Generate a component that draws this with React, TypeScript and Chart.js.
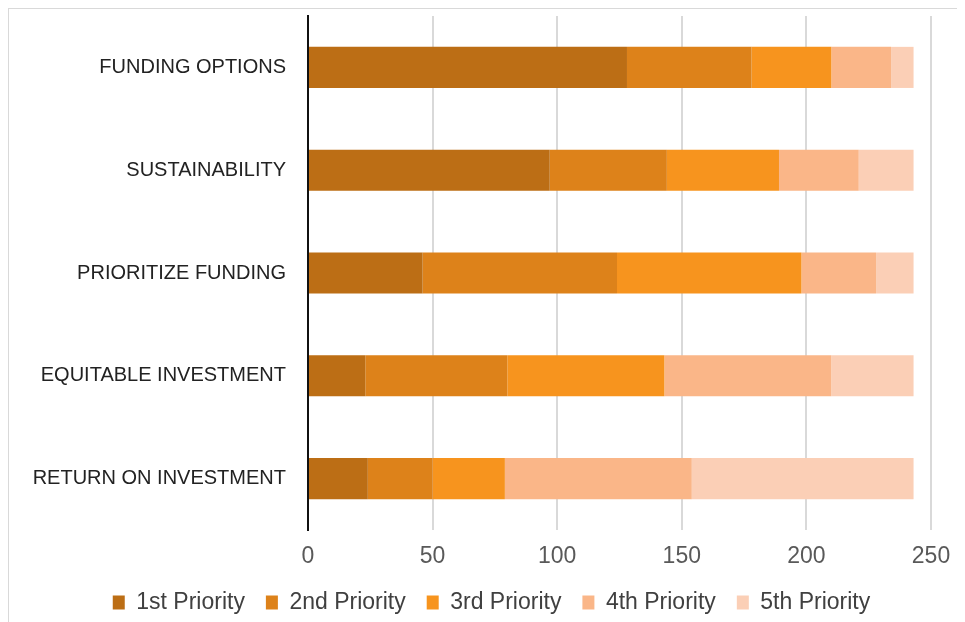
import React, { useEffect, useRef } from "react";
import { Chart, registerables } from "chart.js";

Chart.register(...registerables);

const categories = [
  "FUNDING OPTIONS",
  "SUSTAINABILITY",
  "PRIORITIZE FUNDING",
  "EQUITABLE INVESTMENT",
  "RETURN ON INVESTMENT",
];
const seriesNames = ["1st Priority", "2nd Priority", "3rd Priority", "4th Priority", "5th Priority"];
const priority1 = [128, 97, 46, 23, 24];
const priority2 = [50, 47, 78, 57, 26];
const priority3 = [32, 45, 74, 63, 29];
const priority4 = [24, 32, 30, 67, 75];
const priority5 = [9, 22, 15, 33, 89];
const xTicks = [0, 50, 100, 150, 200, 250];

const colors = ["#BC6E15", "#DD821A", "#F7941E", "#FAB688", "#FBCFB6"];

export default function App() {
  const ref = useRef<HTMLCanvasElement | null>(null);

  useEffect(() => {
    if (!ref.current) return;
    const values = [priority1, priority2, priority3, priority4, priority5];
    const chart = new Chart(ref.current, {
      type: "bar",
      data: {
        labels: categories,
        datasets: values.map((v, i) => ({
          label: seriesNames[i],
          data: v,
          backgroundColor: colors[i],
          borderWidth: 0,
          barPercentage: 0.4,
          categoryPercentage: 1,
        })),
      },
      options: {
        indexAxis: "y",
        animation: false,
        responsive: true,
        maintainAspectRatio: false,
        layout: { padding: { top: 7, right: 0, bottom: 0, left: 12 } },
        plugins: {
          tooltip: { enabled: false },
          legend: {
            position: "bottom",
            labels: {
              boxWidth: 12,
              boxHeight: 14,
              padding: 21,
              color: "#404040",
              font: { family: "'Liberation Sans', Arial, sans-serif", size: 23 },
            },
          },
        },
        scales: {
          x: {
            stacked: true,
            min: xTicks[0],
            max: xTicks[xTicks.length - 1],
            afterFit: (s: any) => {
              s.height = 40;
              s.paddingLeft = 0;
              s.paddingRight = 31;
            },
            afterBuildTicks: (s: any) => {
              s.ticks = xTicks.map((v) => ({ value: v }));
            },
            grid: { color: "#d9d9d9", lineWidth: 2, drawTicks: false },
            border: { display: false },
            ticks: {
              padding: 14,
              color: "#595959",
              font: { family: "'Liberation Sans', Arial, sans-serif", size: 23, lineHeight: 1.1 },
            },
          },
          y: {
            stacked: true,
            afterFit: (s: any) => {
              s.width = 287;
              s.paddingTop = 0;
              s.paddingBottom = 0;
            },
            grid: { color: "transparent", drawTicks: false },
            border: { display: true, color: "#111111", width: 2 },
            ticks: {
              padding: 22,
              color: "#222222",
              font: { family: "'Liberation Sans', Arial, sans-serif", size: 20 },
            },
          },
        },
      },
    });
    return () => chart.destroy();
  }, []);

  return (
    <div
      style={{
        position: "relative",
        width: 955,
        height: 617,
        border: "1px solid #d9d9d9",
        boxSizing: "border-box",
      }}
    >
      <canvas ref={ref} />
    </div>
  );
}
